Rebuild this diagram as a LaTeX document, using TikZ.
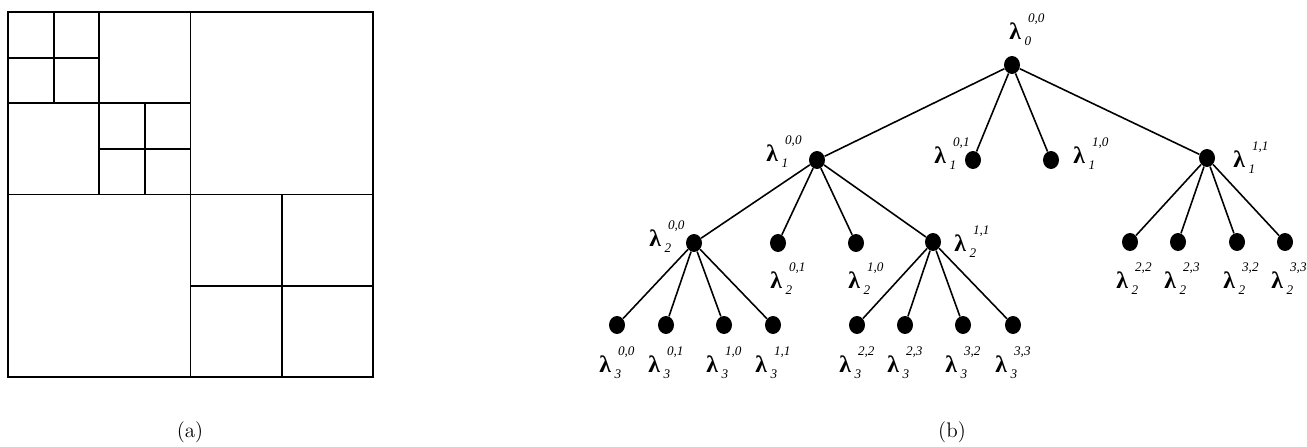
\documentclass[tikz,border=0pt]{standalone}
\usepackage{fontspec}
\newfontfamily\lamfont{Liberation Serif}
\usepackage{tikz}
\usetikzlibrary{positioning,shapes.geometric}

% lambda with its level below and its index pair above
\newcommand{\lam}[2]{{\lamfont\bfseries\fontsize{13.5}{13.5}\selectfont λ}\kern2pt%
\rlap{\kern2pt\raisebox{9.5pt}{\lamfont\itshape\fontsize{7.5}{7.5}\selectfont #1}}%
\rlap{\raisebox{-3.5pt}{\lamfont\itshape\fontsize{7.5}{7.5}\selectfont #2}}\hspace{10pt}}

\begin{document}
\begin{tikzpicture}[x=0.02cm, y=0.02cm, on grid,
    dot/.style={ellipse, fill=black, minimum width=0.32cm, minimum height=0.36cm, inner sep=0pt},
    lbl/.style={inner sep=0pt},
    edge/.style={black, line width=0.9pt}]
\useasboundingbox (0,0) rectangle (1307,446);

% (a) the quadtree cut of the square
\begin{scope}[shift={(8,69)}, x=0.9125cm, y=0.9125cm, line width=1.1pt]
\draw (0,0) rectangle (8,8);
\draw (4,0) -- (4,8) (0,4) -- (8,4);
\draw (2,4) -- (2,8) (0,6) -- (4,6);
\draw (1,6) -- (1,8) (0,7) -- (2,7);
\draw (3,4) -- (3,6) (2,5) -- (4,5);
\draw (6,0) -- (6,4) (4,2) -- (8,2);
\end{scope}
\node (capa) at (190,14) {\fontsize{12}{14}\selectfont (a)};

% (b) the tree
\node[dot] (n00) at (1012,381) {};
\node[dot] (n100) at (817,286) {};
\node[dot] (n101) at (973,286) {};
\node[dot] (n110) at (1051,286) {};
\node[dot] (n111) at (1207,288) {};
\node[dot] (n200) at (694,203) {};
\node[dot] (n201) at (778,203) {};
\node[dot] (n210) at (856,203) {};
\node[dot] (n211) at (933,204) {};
\node[dot] (n222) at (1130,204) {};
\node[dot] (n223) at (1178,204) {};
\node[dot] (n232) at (1237,204) {};
\node[dot] (n233) at (1285,204) {};
\node[dot] (n300) at (617,121) {};
\node[dot] (n301) at (666,121) {};
\node[dot] (n310) at (724,121) {};
\node[dot] (n311) at (773,121) {};
\node[dot] (n322) at (857,121) {};
\node[dot] (n323) at (905,121) {};
\node[dot] (n332) at (963,121) {};
\node[dot] (n333) at (1013,121) {};

\foreach \c in {n100,n101,n110,n111} \draw[edge] (n00) -- (\c);
\foreach \c in {n200,n201,n210,n211} \draw[edge] (n100) -- (\c);
\foreach \c in {n222,n223,n232,n233} \draw[edge] (n111) -- (\c);
\foreach \c in {n300,n301,n310,n311} \draw[edge] (n200) -- (\c);
\foreach \c in {n322,n323,n332,n333} \draw[edge] (n211) -- (\c);

\node[lbl, above right=0.7cm and 0.1cm of n00] (t00) {\lam{0,0}{0}};
\node[lbl, above left=0.16cm and 0.86cm of n100] (t100) {\lam{0,0}{1}};
\node[lbl, above left=0.12cm and 0.62cm of n101] (t101) {\lam{0,1}{1}};
\node[lbl, above right=0.12cm and 0.6cm of n110] (t110) {\lam{1,0}{1}};
\node[lbl, right=0.68cm of n111] (t111) {\lam{1,1}{1}};
\node[lbl, above left=0.12cm and 0.74cm of n200] (t200) {\lam{0,0}{2}};
\node[lbl, below=0.72cm of n201] (t201) {\lam{0,1}{2}};
\node[lbl, below=0.72cm of n210] (t210) {\lam{1,0}{2}};
\node[lbl, right=0.58cm of n211] (t211) {\lam{1,1}{2}};
\node[lbl, below left=0.74cm and 0.12cm of n222] (t222) {\lam{2,2}{2}};
\node[lbl, below left=0.74cm and 0.12cm of n223] (t223) {\lam{2,3}{2}};
\node[lbl, below left=0.74cm and 0.12cm of n232] (t232) {\lam{3,2}{2}};
\node[lbl, below left=0.74cm and 0.12cm of n233] (t233) {\lam{3,3}{2}};
\node[lbl, below left=0.76cm and 0.2cm of n300] (t300) {\lam{0,0}{3}};
\node[lbl, below left=0.76cm and 0.2cm of n301] (t301) {\lam{0,1}{3}};
\node[lbl, below left=0.76cm and 0.2cm of n310] (t310) {\lam{1,0}{3}};
\node[lbl, below left=0.76cm and 0.2cm of n311] (t311) {\lam{1,1}{3}};
\node[lbl, below left=0.76cm and 0.2cm of n322] (t322) {\lam{2,2}{3}};
\node[lbl, below left=0.76cm and 0.2cm of n323] (t323) {\lam{2,3}{3}};
\node[lbl, below left=0.76cm and 0.2cm of n332] (t332) {\lam{3,2}{3}};
\node[lbl, below left=0.76cm and 0.2cm of n333] (t333) {\lam{3,3}{3}};
\node (capb) at (952,14) {\fontsize{12}{14}\selectfont (b)};
\end{tikzpicture}
\end{document}
